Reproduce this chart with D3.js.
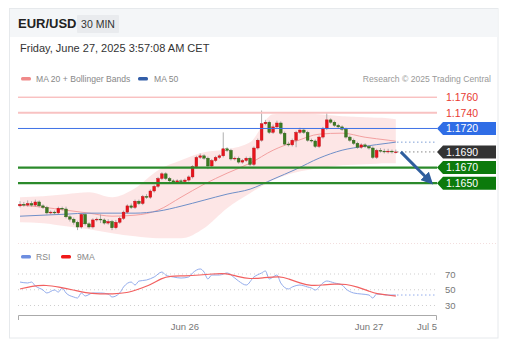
<!DOCTYPE html>
<html><head><meta charset="utf-8">
<script src="https://cdn.jsdelivr.net/npm/d3@7"></script>
<style>
html,body{margin:0;padding:0;background:#fff;}
svg{display:block;font-family:"Liberation Sans",Arial,sans-serif;}
</style></head>
<body>
<svg id="c" width="514" height="356"></svg>
<script>
// ---------- DATA ----------
const symbol = "EUR/USD";
const period = "30 MIN";
const dateText = "Friday, June 27, 2025 3:57:08 AM CET";
const startTime = "2025-06-25T02:30:00Z";
const opens = [1.1621,1.1623,1.1622,1.1624,1.1622,1.1626,1.1621,1.1619,1.1612,1.1613,1.1612,1.1618,1.1617,1.1607,1.1604,1.1600,1.1594,1.1610,1.1598,1.1594,1.1603,1.1604,1.1603,1.1599,1.1601,1.1593,1.1600,1.1605,1.1613,1.1621,1.1619,1.1627,1.1624,1.1633,1.1632,1.1640,1.1646,1.1656,1.1662,1.1656,1.1653,1.1651,1.1653,1.1652,1.1654,1.1658,1.1671,1.1683,1.1685,1.1682,1.1672,1.1679,1.1683,1.1685,1.1694,1.1692,1.1681,1.1682,1.1677,1.1679,1.1682,1.1674,1.1695,1.1705,1.1726,1.1728,1.1715,1.1722,1.1727,1.1714,1.1700,1.1699,1.1705,1.1715,1.1718,1.1715,1.1705,1.1704,1.1697,1.1709,1.1720,1.1731,1.1728,1.1724,1.1722,1.1719,1.1709,1.1705,1.1701,1.1696,1.1699,1.1697,1.1695,1.1683,1.1692,1.1691,1.1690,1.1691,1.1690];
const closes = [1.1623,1.1622,1.1624,1.1622,1.1626,1.1621,1.1619,1.1612,1.1613,1.1612,1.1618,1.1617,1.1607,1.1604,1.1600,1.1594,1.1610,1.1598,1.1594,1.1603,1.1604,1.1603,1.1599,1.1601,1.1593,1.1600,1.1605,1.1613,1.1621,1.1619,1.1627,1.1624,1.1633,1.1632,1.1640,1.1646,1.1656,1.1662,1.1656,1.1653,1.1651,1.1653,1.1652,1.1654,1.1658,1.1671,1.1683,1.1685,1.1682,1.1672,1.1679,1.1683,1.1685,1.1694,1.1692,1.1681,1.1682,1.1677,1.1679,1.1682,1.1674,1.1695,1.1705,1.1726,1.1728,1.1715,1.1722,1.1727,1.1714,1.1700,1.1699,1.1705,1.1715,1.1718,1.1715,1.1705,1.1704,1.1697,1.1709,1.1720,1.1731,1.1728,1.1724,1.1722,1.1719,1.1709,1.1705,1.1701,1.1696,1.1699,1.1697,1.1695,1.1683,1.1692,1.1691,1.1690,1.1691,1.1690,1.1690];
const highs = [1.1627,1.1626,1.1628,1.1627,1.1629,1.1628,1.1623,1.1621,1.1615,1.1615,1.1620,1.1620,1.1620,1.1609,1.1606,1.1602,1.1612,1.1612,1.1600,1.1605,1.1606,1.1610,1.1605,1.1604,1.1603,1.1603,1.1607,1.1615,1.1623,1.1624,1.1629,1.1629,1.1635,1.1636,1.1642,1.1648,1.1658,1.1664,1.1664,1.1658,1.1655,1.1655,1.1655,1.1656,1.1660,1.1673,1.1685,1.1688,1.1687,1.1684,1.1681,1.1685,1.1687,1.1715,1.1696,1.1694,1.1684,1.1684,1.1681,1.1684,1.1684,1.1697,1.1707,1.1743,1.1731,1.1730,1.1725,1.1730,1.1729,1.1716,1.1703,1.1707,1.1717,1.1721,1.1720,1.1717,1.1707,1.1706,1.1711,1.1722,1.1741,1.1733,1.1730,1.1726,1.1724,1.1721,1.1711,1.1707,1.1703,1.1701,1.1701,1.1699,1.1697,1.1694,1.1695,1.1694,1.1694,1.1693,1.1693];
const lows = [1.1619,1.1620,1.1620,1.1620,1.1620,1.1619,1.1617,1.1610,1.1610,1.1610,1.1610,1.1615,1.1605,1.1601,1.1597,1.1590,1.1592,1.1596,1.1592,1.1592,1.1601,1.1599,1.1597,1.1597,1.1590,1.1591,1.1598,1.1603,1.1611,1.1617,1.1617,1.1622,1.1622,1.1630,1.1630,1.1638,1.1644,1.1654,1.1654,1.1651,1.1649,1.1649,1.1650,1.1650,1.1652,1.1656,1.1669,1.1681,1.1680,1.1668,1.1670,1.1677,1.1681,1.1683,1.1690,1.1679,1.1679,1.1675,1.1675,1.1677,1.1672,1.1672,1.1693,1.1703,1.1724,1.1713,1.1713,1.1720,1.1712,1.1698,1.1697,1.1697,1.1696,1.1713,1.1713,1.1703,1.1702,1.1695,1.1695,1.1707,1.1718,1.1726,1.1722,1.1720,1.1717,1.1707,1.1703,1.1699,1.1694,1.1694,1.1695,1.1693,1.1681,1.1681,1.1689,1.1688,1.1688,1.1688,1.1688];

// indicator samples (candle index -> value)
const indIdx = [0,6,12,18,24,30,36,42,48,54,60,66,72,78,84,90,96,98];
const bbUpper = [1.16321,1.16334,1.1636,1.16385,1.16321,1.16436,1.16667,1.16794,1.16897,1.16935,1.17025,1.17383,1.17395,1.17383,1.17357,1.17344,1.17331,1.17319];
const bbLower = [1.16002,1.15989,1.1595,1.15912,1.15861,1.15822,1.15797,1.15797,1.15925,1.16181,1.16372,1.16539,1.16641,1.16692,1.1673,1.16743,1.16756,1.16756];
const ma20 = [1.16219,1.16193,1.16155,1.16117,1.16078,1.16091,1.16155,1.16321,1.16487,1.16628,1.16756,1.16922,1.17037,1.17127,1.1714,1.17088,1.1705,1.17037];
const ma50 = [1.16078,1.16091,1.16104,1.16117,1.16117,1.16117,1.16142,1.16206,1.16283,1.1636,1.16424,1.16551,1.16679,1.1682,1.16922,1.16973,1.17012,1.17025];

const rsiIdx = [0,2,3,4,6,7,9,10,11,12,14,15,16,17,19,21,23,24,26,27,29,30,31,33,35,37,38,40,42,44,45,47,48,49,50,52,54,56,57,59,61,63,64,65,66,67,68,70,71,73,75,76,77,79,80,82,84,85,87,89,91,92,93,96,98];
const rsiVal = [59.8,58.6,59.8,54.8,49.7,45.9,49.7,47.1,52.2,45.9,40.8,39.5,45.9,42.1,45.9,45.9,44.6,40.8,45.9,53.5,59.8,56,61,62.4,66.2,72.5,68.7,66.2,64.9,66.2,71.3,76.4,72.5,63.7,68.7,68.7,71.3,64.9,61.1,56,66.2,71.3,73.8,63.7,66.2,68.7,58.6,51,53.5,56,53.5,52.2,49.7,58.6,61.1,58.6,56,51,45.9,44.6,43.3,39.5,44.6,43.3,43.3];
const rsiMaIdx = [0,3,7,10,14,17,21,24,28,31,34,37,39,43,47,50,54,57,60,63,68,70,73,76,79,82,85,88,91,93,96,98];
const rsiMaVal = [50.9,54.8,56,53.5,49.7,45.9,44.6,44.6,45.9,50.9,56,64.9,67.5,67.5,68.7,70,71.3,66.2,63.7,64.9,67.5,63.7,58.6,54.8,56,57.3,57.3,53.5,48.4,44.6,43.3,42];

const levels = [1.1760,1.1740,1.1720,1.1690,1.1670,1.1650];
const levelLabels = ["1.1760","1.1740","1.1720","1.1690","1.1670","1.1650"];
const rsiTicks = [70,50,30];
const xTickLabels = ["Jun 26","Jun 27","Jul 5"];
const xTickDates = ["2025-06-26T00:00:00Z","2025-06-27T00:00:00Z"];
const legend1 = ["MA 20 + Bollinger Bands","MA 50"];
const legend2 = ["RSI","9MA"];
const credit = "Research \u00a9 2025 Trading Central";

// ---------- DRAW ----------
const svg = d3.select("#c");
const t0 = new Date(startTime);
const times = closes.map((d,i)=> new Date(t0.getTime()+i*1800000));
const x = d3.scaleUtc().domain([times[0], times[times.length-1]]).range([20, 395.8]);
const xi = i => x(new Date(t0.getTime()+i*1800000));
const y = d3.scaleLinear().domain([1.1650,1.1760]).range([183.2,97.2]);
const yr = d3.scaleLinear().domain([30,70]).range([305.5,274]);

// card
svg.append("rect").attr("x",9.5).attr("y",8.5).attr("width",488.5).attr("height",329.5).attr("fill","#fff").attr("stroke","#e6e9ec");
svg.append("rect").attr("x",10).attr("y",9).attr("width",487.5).attr("height",28).attr("fill","#f4f6f8");
svg.append("text").attr("x",18).attr("y",28).attr("font-size",13).attr("font-weight","bold").attr("fill","#222").text(symbol);
svg.append("rect").attr("x",77).attr("y",15).attr("width",42).attr("height",18).attr("fill","#e9ebee").attr("rx",1);
svg.append("text").attr("x",98).attr("y",28).attr("text-anchor","middle").attr("font-size",10.5).attr("fill","#333").text(period);
svg.append("text").attr("x",20).attr("y",52).attr("font-size",11).attr("fill","#333").text(dateText);

// legend 1
const lg = svg.append("g").attr("font-size",8.6).attr("fill","#888");
lg.append("rect").attr("x",21).attr("y",77).attr("width",10).attr("height",3.5).attr("rx",1.5).attr("fill","#f08a8a");
lg.append("text").attr("x",36).attr("y",82).text(legend1[0]);
lg.append("rect").attr("x",138).attr("y",77).attr("width",10).attr("height",3.5).attr("rx",1.5).attr("fill","#335ea8");
lg.append("text").attr("x",154).attr("y",82).text(legend1[1]);
svg.append("text").attr("x",491).attr("y",82).attr("text-anchor","end").attr("font-size",8.6).attr("fill","#999").text(credit);

// bollinger band
const bandData = indIdx.map((k,j)=>({k, u:bbUpper[j], l:bbLower[j]}));
svg.append("path").datum(bandData)
  .attr("d", d3.area().x(d=>xi(d.k)).y0(d=>y(d.l)).y1(d=>y(d.u)).curve(d3.curveMonotoneX))
  .attr("fill","#fde3e3").attr("opacity",0.9);
svg.append("path").datum(indIdx.map((k,j)=>({k,v:ma20[j]})))
  .attr("d", d3.line().x(d=>xi(d.k)).y(d=>y(d.v)).curve(d3.curveMonotoneX))
  .attr("fill","none").attr("stroke","#f3a0a0").attr("stroke-width",1);
svg.append("path").datum(indIdx.map((k,j)=>({k,v:ma50[j]})))
  .attr("d", d3.line().x(d=>xi(d.k)).y(d=>y(d.v)).curve(d3.curveMonotoneX))
  .attr("fill","none").attr("stroke","#6f8fc8").attr("stroke-width",1);

// candles
const cw = 2.8;
const cg = svg.append("g");
closes.forEach((c,i)=>{
  const o = opens[i], cx = xi(i);
  cg.append("line").attr("x1",cx).attr("x2",cx).attr("y1",y(highs[i])).attr("y2",y(lows[i])).attr("stroke","#9a9a9a").attr("stroke-width",0.8);
  const up = c >= o;
  const top = y(Math.max(o,c)), bot = y(Math.min(o,c));
  cg.append("rect").attr("x",cx-cw/2).attr("y",top).attr("width",cw).attr("height",Math.max(bot-top,0.8))
    .attr("fill", up ? "#e8141c" : "#3c7a22").attr("stroke", up ? "#b81018" : "#2c5e18").attr("stroke-width",0.4);
});

// level lines
const lx0 = 18, lx1 = 437;
const lvStyle = [
  {c:"#f6a6a6", w:1, txt:"#e83a32", box:null},
  {c:"#f8c2c2", w:2, txt:"#e83a32", box:null},
  {c:"#3f72e6", w:1, txt:"#fff", box:"#2f6de6"},
  {c:"#777", w:1, txt:"#fff", box:"#333333", dotted:true},
  {c:"#2b8a2b", w:2.2, txt:"#fff", box:"#0c7a0c"},
  {c:"#2b8a2b", w:2.2, txt:"#fff", box:"#0c7a0c"}
];
levels.forEach((v,i)=>{
  const s = lvStyle[i], yy = y(v);
  if (s.dotted) {
    svg.append("line").attr("x1",397).attr("x2",lx1).attr("y1",yy).attr("y2",yy)
      .attr("stroke","#888").attr("stroke-width",1).attr("stroke-dasharray","1.5,2.5");
  } else {
    svg.append("line").attr("x1",lx0).attr("x2",lx1).attr("y1",yy).attr("y2",yy).attr("stroke",s.c).attr("stroke-width",s.w);
  }
  if (s.box) {
    svg.append("path").attr("d",`M437,${yy} L443,${yy-6.5} L496,${yy-6.5} L496,${yy+6.5} L443,${yy+6.5} Z`).attr("fill",s.box);
  }
  svg.append("text").attr("x",446).attr("y",yy+3.8).attr("font-size",10.5).attr("fill",s.txt).text(levelLabels[i]);
});
// MA50 extension dotted
svg.append("line").attr("x1",397).attr("x2",lx1).attr("y1",y(ma50[ma50.length-1])).attr("y2",y(ma50[ma50.length-1]))
  .attr("stroke","#7f9fd6").attr("stroke-width",1).attr("stroke-dasharray","1.5,2.5");

// arrow
svg.append("defs").append("marker").attr("id","ah").attr("viewBox","0 0 10 10").attr("refX",4).attr("refY",5)
  .attr("markerWidth",4).attr("markerHeight",4).attr("orient","auto")
  .append("path").attr("d","M0,0 L10,5 L0,10 Z").attr("fill","#2f5e9e");
svg.append("line").attr("x1",xi(98)+5).attr("y1",y(1.1690)).attr("x2",428).attr("y2",y(1.1655))
  .attr("stroke","#2f5e9e").attr("stroke-width",3).attr("marker-end","url(#ah)");

// separator
svg.append("line").attr("x1",18).attr("x2",497).attr("y1",243.5).attr("y2",243.5).attr("stroke","#f3dede").attr("stroke-dasharray","1,2");

// RSI legend
const lg2 = svg.append("g").attr("font-size",8.6).attr("fill","#888");
lg2.append("rect").attr("x",21).attr("y",255).attr("width",10).attr("height",3.5).attr("rx",1.5).attr("fill","#6d8ee0");
lg2.append("text").attr("x",36).attr("y",260).text(legend2[0]);
lg2.append("rect").attr("x",61).attr("y",255).attr("width",10).attr("height",3.5).attr("rx",1.5).attr("fill","#f01818");
lg2.append("text").attr("x",77).attr("y",260).text(legend2[1]);

// RSI grid
rsiTicks.forEach(v=>{
  svg.append("line").attr("x1",18).attr("x2",437).attr("y1",yr(v)).attr("y2",yr(v)).attr("stroke","#cfcfcf").attr("stroke-dasharray","1,3");
  svg.append("text").attr("x",445).attr("y",yr(v)+3.5).attr("font-size",9.5).attr("fill","#777").text(v);
});
svg.append("path").datum(rsiIdx.map((k,j)=>({k,v:rsiVal[j]})))
  .attr("d", d3.line().x(d=>xi(d.k)).y(d=>yr(d.v)).curve(d3.curveMonotoneX))
  .attr("fill","none").attr("stroke","#93acec").attr("stroke-width",1);
svg.append("path").datum(rsiMaIdx.map((k,j)=>({k,v:rsiMaVal[j]})))
  .attr("d", d3.line().x(d=>xi(d.k)).y(d=>yr(d.v)).curve(d3.curveBasis))
  .attr("fill","none").attr("stroke","#f26060").attr("stroke-width",1.2);
svg.append("line").attr("x1",397).attr("x2",437).attr("y1",yr(rsiVal[rsiVal.length-1])).attr("y2",yr(rsiVal[rsiVal.length-1]))
  .attr("stroke","#93acec").attr("stroke-dasharray","1.5,2.5");

// x axis
const ax = svg.append("g").attr("font-size",9.5).attr("fill","#777");
ax.append("path").attr("d","M18.5,320 V315.5 H436.5 V320").attr("fill","none").attr("stroke","#aaa").attr("stroke-width",1);
xTickDates.forEach((d,i)=>{
  ax.append("text").attr("x",x(new Date(d))).attr("y",330).attr("text-anchor","middle").text(xTickLabels[i]);
});
ax.append("text").attr("x",437).attr("y",330).attr("text-anchor","end").text(xTickLabels[2]);
</script>
</body></html>
